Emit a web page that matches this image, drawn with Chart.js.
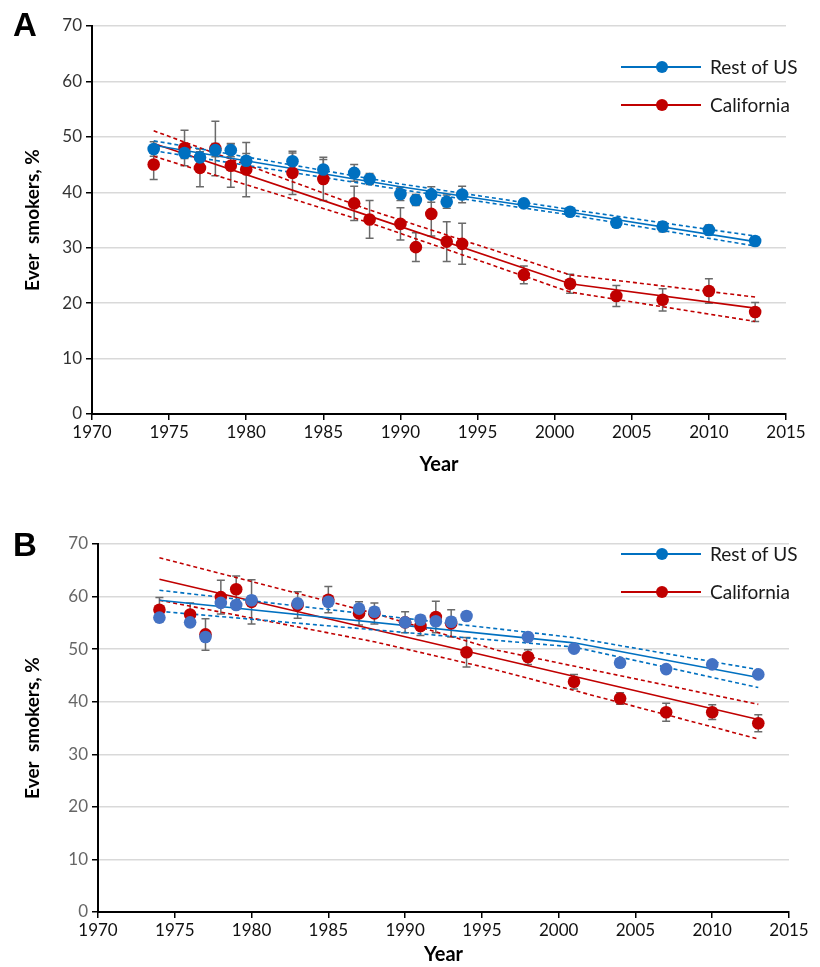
<!DOCTYPE html>
<html>
<head>
<meta charset="utf-8">
<script src="https://cdn.jsdelivr.net/npm/chart.js@4.4.1/dist/chart.umd.min.js"></script>
<style>
  body { margin: 0; background: #fff; width: 820px; height: 967px; position: relative; overflow: hidden; }
  .panel { position: absolute; left: 0; width: 820px; }
  .tag { position: absolute; left: 13px; font: bold 33px "Liberation Sans", Arial, sans-serif; line-height: 1; color: #000; }
</style>
</head>
<body>
<div class="panel" style="top:0"><canvas id="chart-a" width="820" height="480"></canvas></div>
<div class="panel" style="top:485px"><canvas id="chart-b" width="820" height="482"></canvas></div>
<div class="tag" style="top:8px">A</div>
<div class="tag" style="top:528px">B</div>
<script>
// survey years (same for both panels)
var years = [1974, 1976, 1977, 1978, 1979, 1980, 1983, 1985, 1987, 1988, 1990, 1991, 1992, 1993, 1994, 1998, 2001, 2004, 2007, 2010, 2013];
var yearTicks = [1970, 1975, 1980, 1985, 1990, 1995, 2000, 2005, 2010, 2015];
var pctTicks = [0, 10, 20, 30, 40, 50, 60, 70];

// panel A - observed
var restA    = [47.8, 47.1, 46.3, 47.6, 47.6, 45.7, 45.6, 44.1, 43.5, 42.4, 39.7, 38.6, 39.6, 38.3, 39.6, 38.0, 36.5, 34.5, 33.8, 33.2, 31.2];
var restAErr = [1.3, 1.0, 1.0, 1.2, 1.2, 1.3, 1.5, 1.8, 1.5, 1.0, 1.2, 1.0, 1.4, 1.2, 1.5, 0.7, 0.7, 0.8, 0.9, 0.9, 0.8];
var caliA    = [45.0, 48.0, 44.4, 47.9, 44.8, 44.1, 43.5, 42.4, 38.0, 35.1, 34.3, 30.1, 36.1, 31.1, 30.7, 25.1, 23.5, 21.3, 20.6, 22.2, 18.4];
var caliAErr = [2.7, 3.2, 3.4, 4.9, 3.9, 4.9, 3.9, 3.9, 3.1, 3.4, 2.9, 2.6, 4.0, 3.6, 3.7, 1.6, 1.7, 1.9, 2.0, 2.2, 1.7];

// panel A - fitted trends and confidence limits
var restAFitYears = [1974, 1990, 2001, 2013];
var restAFit      = [48.5, 41.0, 36.4, 31.1];
var restAFitHi    = [49.3, 41.5, 36.9, 32.1];
var restAFitLo    = [47.5, 40.5, 35.9, 30.3];
var caliAFitYears = [1974, 1988, 2001, 2013];
var caliAFit      = [48.8, 35.7, 23.5, 19.1];
var caliAFitHi    = [51.1, 36.8, 25.1, 21.1];
var caliAFitLo    = [46.5, 34.5, 22.0, 16.7];

// panel B - observed
var restB    = [56.0, 55.1, 52.3, 58.8, 58.4, 59.3, 58.7, 59.0, 57.7, 57.1, 55.1, 55.6, 55.3, 55.2, 56.3, 52.3, 50.1, 47.4, 46.2, 47.1, 45.2];
var restBErr = [0.8, 0.8, 0.8, 0.8, 0.8, 0.8, 0.8, 0.8, 0.8, 0.8, 0.8, 0.8, 0.8, 0.8, 0.8, 0.6, 0.6, 0.6, 0.6, 0.6, 0.6];
var caliB    = [57.5, 56.6, 52.8, 59.9, 61.4, 59.0, 58.4, 59.4, 56.8, 56.8, 55.1, 54.4, 56.1, 54.9, 49.4, 48.5, 43.8, 40.6, 38.0, 38.0, 35.9];
var caliBErr = [2.3, 2.2, 3.0, 3.2, 2.5, 4.2, 2.5, 2.5, 2.2, 2.0, 2.0, 1.8, 3.0, 2.6, 2.8, 1.4, 1.4, 1.1, 1.7, 1.4, 1.6];

// panel B - fitted trends and confidence limits
var restBFitYears = [1974, 2001, 2013];
var restBFit      = [59.3, 51.2, 44.6];
var restBFitHi    = [61.2, 52.2, 46.1];
var restBFitLo    = [57.2, 50.4, 42.7];
var caliBFitYears = [1974, 2013];
var caliBFit      = [63.3, 36.6];
var caliBCiYears  = [1974, 1988, 1996, 2013];
var caliBFitHi    = [67.4, 56.8, 49.8, 39.5];
var caliBFitLo    = [59.3, 51.4, 46.0, 32.9];

var BLUE = "#0070C0";
var RED = "#C00000";
var FONT = "Lato, 'Open Sans', sans-serif";

function pts(xs, ys) {
  return xs.map(function (x, i) { return { x: x, y: ys[i] }; });
}

function observed(label, vals, errs, color, legendColor) {
  return {
    label: label,
    data: pts(years, vals),
    errors: errs,
    legendColor: legendColor,
    backgroundColor: color,
    borderColor: color,
    borderWidth: 0,
    pointRadius: 6.3,
    pointHoverRadius: 6.3,
    showLine: false
  };
}

function trend(xs, ys, color, dashed) {
  return {
    data: pts(xs, ys),
    borderColor: color,
    borderWidth: 1.6,
    borderDash: dashed ? [4, 3] : [],
    pointRadius: 0,
    pointHoverRadius: 0,
    showLine: true,
    fill: false,
    tension: 0
  };
}

// vertical error bars behind the markers
var errorBars = {
  id: "errorBars",
  beforeDatasetsDraw: function (chart) {
    var ctx = chart.ctx, x = chart.scales.x, y = chart.scales.y;
    ctx.save();
    ctx.strokeStyle = "#6a6a6a";
    ctx.lineWidth = 1.5;
    chart.data.datasets.forEach(function (ds) {
      if (!ds.errors) return;
      ds.data.forEach(function (p, j) {
        var e = ds.errors[j];
        var px = x.getPixelForValue(p.x);
        var top = y.getPixelForValue(p.y + e);
        var bot = y.getPixelForValue(p.y - e);
        ctx.beginPath();
        ctx.moveTo(px, top); ctx.lineTo(px, bot);
        ctx.moveTo(px - 4, top); ctx.lineTo(px + 4, top);
        ctx.moveTo(px - 4, bot); ctx.lineTo(px + 4, bot);
        ctx.stroke();
      });
    });
    ctx.restore();
  }
};

// legend with a line through a circle marker
var lineLegend = {
  id: "lineLegend",
  afterDraw: function (chart, args, opts) {
    var ctx = chart.ctx;
    var items = chart.data.datasets.filter(function (ds) { return ds.legendColor; });
    ctx.save();
    items.forEach(function (ds, i) {
      var y = opts.y + i * opts.gap;
      ctx.strokeStyle = ds.legendColor;
      ctx.lineWidth = 2;
      ctx.beginPath();
      ctx.moveTo(opts.x, y); ctx.lineTo(opts.x + 80, y);
      ctx.stroke();
      ctx.fillStyle = ds.legendColor;
      ctx.beginPath();
      ctx.arc(opts.x + 41, y, 6, 0, Math.PI * 2);
      ctx.fill();
      ctx.fillStyle = "#1a1a1a";
      ctx.font = "19px " + FONT;
      ctx.textBaseline = "middle";
      ctx.fillText(ds.label, opts.x + 89, y + 1);
    });
    ctx.restore();
  }
};

function makeChart(id, datasets, p) {
  return new Chart(document.getElementById(id), {
    type: "scatter",
    data: { datasets: datasets },
    plugins: [errorBars, lineLegend],
    options: {
      responsive: false,
      animation: false,
      events: [],
      layout: { padding: { top: p.top, right: p.right, left: 0, bottom: 0 } },
      plugins: {
        legend: { display: false },
        tooltip: { enabled: false },
        lineLegend: { x: 621, y: p.legendY, gap: 38 }
      },
      scales: {
        x: {
          type: "linear",
          min: 1970,
          max: 2015,
          afterBuildTicks: function (s) { s.ticks = yearTicks.map(function (v) { return { value: v }; }); },
          afterFit: function (s) { s.height = p.xHeight; },
          grid: { drawOnChartArea: false, color: "#000", lineWidth: 1.5, tickLength: 6 },
          border: { color: "#000", width: 2 },
          ticks: {
            color: "#111", font: { family: FONT, size: 17 }, padding: 2, maxRotation: 0, autoSkip: false,
            callback: function (v) { return String(v); }
          },
          title: { display: true, text: "Year", color: "#000", font: { family: FONT, size: 20, weight: "bold" }, padding: { top: 0, bottom: p.titleBottom } }
        },
        y: {
          min: 0,
          max: 70,
          afterBuildTicks: function (s) { s.ticks = pctTicks.map(function (v) { return { value: v }; }); },
          afterFit: function (s) { s.width = p.left; },
          grid: {
            color: function (c) { return c.tick && c.tick.value === 0 ? "rgba(0,0,0,0)" : "#d9d9d9"; },
            tickColor: "#000",
            lineWidth: 1.5,
            tickLength: 6
          },
          border: { color: "#000", width: 2 },
          ticks: { color: p.yTickColor, font: { family: FONT, size: 17 }, padding: 4 },
          title: { display: true, text: "Ever  smokers, %", color: "#000", font: { family: FONT, size: 19, weight: "bold" }, padding: { top: 21, bottom: 0 } }
        }
      }
    }
  });
}

var chartA = makeChart("chart-a", [
  observed("Rest of US", restA, restAErr, BLUE, BLUE),
  observed("California", caliA, caliAErr, RED, RED),
  trend(restAFitYears, restAFit, BLUE, false),
  trend(restAFitYears, restAFitHi, BLUE, true),
  trend(restAFitYears, restAFitLo, BLUE, true),
  trend(caliAFitYears, caliAFit, RED, false),
  trend(caliAFitYears, caliAFitHi, RED, true),
  trend(caliAFitYears, caliAFitLo, RED, true)
], { top: 26, right: 34, left: 92, xHeight: 66, titleBottom: 3, legendY: 67, yTickColor: "#333" });

var chartB = makeChart("chart-b", [
  observed("Rest of US", restB, restBErr, "#4472C4", BLUE),
  observed("California", caliB, caliBErr, RED, RED),
  trend(restBFitYears, restBFit, BLUE, false),
  trend(restBFitYears, restBFitHi, BLUE, true),
  trend(restBFitYears, restBFitLo, BLUE, true),
  trend(caliBFitYears, caliBFit, RED, false),
  trend(caliBCiYears, caliBFitHi, RED, true),
  trend(caliBCiYears, caliBFitLo, RED, true)
], { top: 59, right: 31, left: 98, xHeight: 55, titleBottom: 0, legendY: 69, yTickColor: "#666" });
</script>
</body>
</html>
